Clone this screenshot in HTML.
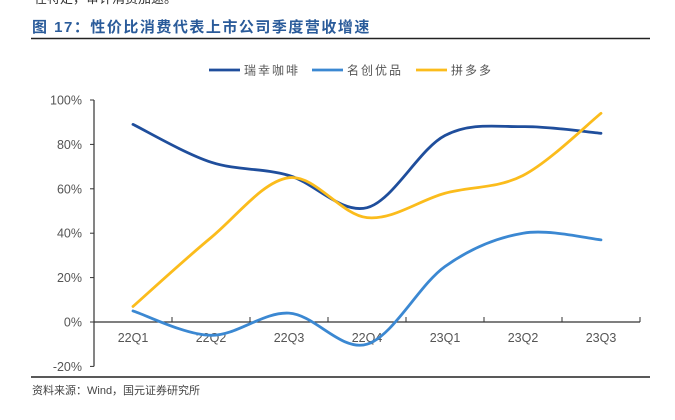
<!DOCTYPE html>
<html><head><meta charset="utf-8">
<style>
body{margin:0;background:#fff;}
svg{display:block;font-family:"Liberation Sans","Noto Sans CJK SC",sans-serif;}
</style></head>
<body>
<svg id="chart" width="675" height="420" viewBox="0 0 675 420">
  <text x="34" y="3" font-size="13" fill="#333">在特定，审计消费加速。</text>
  <text x="32" y="32" font-size="15" font-weight="bold" fill="#2a5b9a" style="letter-spacing:1.5px">图 17：性价比消费代表上市公司季度营收增速</text>
  <line x1="31" y1="38.5" x2="650" y2="38.5" stroke="#222" stroke-width="1.5"/>
  <line x1="31" y1="377" x2="650" y2="377" stroke="#222" stroke-width="1.5"/>
  <text x="32" y="394" font-size="11" fill="#444">资料来源：Wind，国元证券研究所</text>
  <g id="legend"></g>
  <g id="axes"></g>
  <g id="series"></g>
</svg>
<script>
const categories = ["22Q1","22Q2","22Q3","22Q4","23Q1","23Q2","23Q3"];
const luckin = [89, 72, 66, 51.5, 84, 88, 85];
const miniso = [5, -6, 4, -10, 25, 40, 37];
const pdd = [7, 38, 65, 47, 58, 66, 94];
const seriesNames = ["瑞幸咖啡","名创优品","拼多多"];
const yTicks = [-20, 0, 20, 40, 60, 80, 100];

const NS = "http://www.w3.org/2000/svg";
const x0 = 94, bw = 78, yZero = 322, pxPer = 2.22;
const xs = i => x0 + bw * (i + 0.5);
const ys = v => yZero - v * pxPer;
function mk(tag, attrs, parent){const e=document.createElementNS(NS,tag);for(const k in attrs)e.setAttribute(k,attrs[k]);parent.appendChild(e);return e;}
const axes = document.getElementById("axes");
const series = document.getElementById("series");
const legend = document.getElementById("legend");

const ya = mk("line",{x1:x0,y1:ys(100),x2:x0,y2:ys(-20),stroke:"#333","stroke-width":1.2},axes);


yTicks.forEach(t=>{
  const tk = mk("line",{x1:x0-4,y1:ys(t),x2:x0,y2:ys(t),stroke:"#333"},axes);
  
  
  const lb = mk("text",{x:x0-12,y:ys(t)+4.5,"text-anchor":"end","font-size":12.5,fill:"#555"},axes);
  lb.textContent = t + "%";
  
  
});
const xEnd = x0 + bw*categories.length;
const xa = mk("line",{x1:x0,y1:yZero,x2:xEnd,y2:yZero,stroke:"#333","stroke-width":1.2},axes);


for(let i=1;i<=categories.length;i++){
  const tk = mk("line",{x1:x0+bw*i,y1:yZero-5,x2:x0+bw*i,y2:yZero,stroke:"#333"},axes);
  
  
}
categories.forEach((c,i)=>{
  const lb = mk("text",{x:xs(i),y:yZero+20,"text-anchor":"middle","font-size":12.5,fill:"#555"},axes);
  lb.textContent = c;
  
  
});

function smooth(vals){
  const p = vals.map((v,i)=>[xs(i),ys(v)]);
  let d = "M"+p[0][0]+","+p[0][1];
  for(let i=0;i<p.length-1;i++){
    const a=p[i-1]||p[i], b=p[i], c=p[i+1], e=p[i+2]||c;
    const t=6;
    d+=" C"+(b[0]+(c[0]-a[0])/t)+","+(b[1]+(c[1]-a[1])/t)+" "+(c[0]-(e[0]-b[0])/t)+","+(c[1]-(e[1]-b[1])/t)+" "+c[0]+","+c[1];
  }
  return d;
}
const colors = ["#1f4e9c","#3b88d2","#fbbc1c"];
const data = [luckin, miniso, pdd];
const slugs = ["luckin-line","miniso-line","pdd-line"];
data.forEach((vals,k)=>{
  const p = mk("path",{d:smooth(vals),fill:"none",stroke:colors[k],"stroke-width":2.8,"stroke-linecap":"round"},series);
  
  
});
const lx = [209, 312, 416];
seriesNames.forEach((n,k)=>{
  const l = mk("line",{x1:lx[k],y1:70,x2:lx[k]+31,y2:70,stroke:colors[k],"stroke-width":2.8},legend);
  
  
  const t = mk("text",{x:lx[k]+35,y:74.5,"font-size":12,fill:"#555","letter-spacing":"2"},legend);
  t.textContent = n;
  
  
});
</script>
</body></html>
